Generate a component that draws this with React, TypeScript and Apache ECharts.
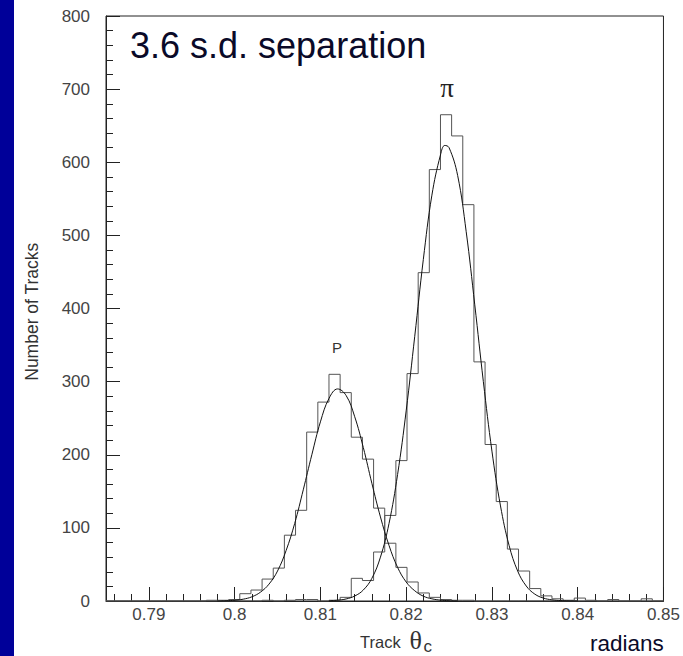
import { useEffect, useRef } from "react";
import * as echarts from "echarts";

// Histogram binning (50 bins from 0.785 to 0.85)
const binStart = 0.785;
const binWidth = 0.0013;

// Proton histogram counts per bin
const protonCounts = [
  0, 0, 0, 0, 0, 0, 0, 0, 0, 1,
  1, 2, 10, 15, 30, 45, 90, 124, 231, 272,
  310, 285, 224, 194, 127, 79, 46, 26, 11, 5,
  2, 1, 1, 0, 0, 0, 0, 0, 0, 0,
  0, 0, 0, 0, 0, 0, 0, 0, 0, 0,
];

// Pion histogram counts per bin
const pionCounts = [
  0, 0, 0, 0, 0, 0, 0, 0, 0, 0,
  0, 0, 0, 0, 1, 0, 1, 2, 2, 0,
  1, 5, 31, 28, 67, 117, 192, 311, 449, 590,
  665, 636, 542, 327, 214, 136, 71, 41, 17, 7,
  3, 1, 4, 1, 0, 2, 0, 0, 3, 0,
];

// Fitted curves
const protonFitX = [
  0.798, 0.799, 0.8, 0.801, 0.802, 0.803, 0.804, 0.805, 0.806, 0.807,
  0.808, 0.809, 0.81, 0.811, 0.812, 0.813, 0.814, 0.815, 0.816, 0.817,
  0.818, 0.819, 0.82, 0.821, 0.822, 0.823, 0.824, 0.825, 0.826,
];
const protonFitY = [
  0, 0.4, 1, 2.5, 5.7, 12, 23, 41, 69, 106,
  152, 200, 245, 277, 290, 281, 252, 210, 161, 115,
  76, 46, 26, 14, 6.6, 3, 1.2, 0.4, 0.1,
];
const pionFitX = [
  0.811, 0.812, 0.813, 0.814, 0.815, 0.816, 0.817, 0.818, 0.819, 0.82,
  0.821, 0.822, 0.823, 0.824, 0.8245, 0.825, 0.826, 0.827, 0.828, 0.829,
  0.83, 0.831, 0.832, 0.833, 0.834, 0.835, 0.836, 0.837, 0.838, 0.839, 0.84,
];
const pionFitY = [
  0.4, 1.1, 2.8, 6.8, 15, 31, 60, 106, 173, 260,
  362, 467, 555, 610, 623, 620, 582, 505, 405, 300,
  205, 130, 76, 41, 20.5, 9.4, 4, 1.6, 0.6, 0.2, 0.1,
];

// Axis ticks
const xMajorTicks = [0.79, 0.8, 0.81, 0.82, 0.83, 0.84, 0.85];
const xTickLabels = ["0.79", "0.8", "0.81", "0.82", "0.83", "0.84", "0.85"];
const xMinorTicks = [
  0.786, 0.788, 0.792, 0.794, 0.796, 0.798, 0.802, 0.804, 0.806, 0.808,
  0.812, 0.814, 0.816, 0.818, 0.822, 0.824, 0.826, 0.828, 0.832, 0.834,
  0.836, 0.838, 0.842, 0.844, 0.846, 0.848,
];

const SANS = "'Liberation Sans', Arial, sans-serif";
const SERIF = "'Liberation Serif', 'Times New Roman', serif";

function histPoints(counts: number[]) {
  const pts: number[][] = counts.map((c, i) => [binStart + i * binWidth, c]);
  pts.push([binStart + counts.length * binWidth, counts[counts.length - 1]]);
  return pts;
}

export default function App() {
  const ref = useRef<HTMLDivElement>(null);
  useEffect(() => {
    const chart = echarts.init(ref.current!, null, { renderer: "svg" });
    const tickLine = { color: "#222", width: 1 };
    chart.setOption({
      animation: false,
      backgroundColor: "#ffffff",
      grid: {
        left: 106,
        right: 18,
        top: 16,
        bottom: 55,
        show: true,
        borderColor: "#222",
        borderWidth: 1,
        backgroundColor: "transparent",
      },
      xAxis: [
        {
          type: "value",
          min: 0.785,
          max: 0.85,
          position: "bottom",
          axisLine: { show: true, lineStyle: tickLine },
          splitLine: { show: false },
          axisTick: { show: true, inside: true, length: 14, customValues: xMajorTicks, lineStyle: tickLine },
          axisLabel: {
            customValues: xMajorTicks,
            formatter: (v: number) => {
              let best = 0;
              xMajorTicks.forEach((t, i) => {
                if (Math.abs(t - v) < Math.abs(xMajorTicks[best] - v)) best = i;
              });
              return xTickLabels[best];
            },
            color: "#444",
            fontSize: 17,
            fontFamily: SANS,
            margin: 5,
          },
        },
        {
          type: "value",
          min: 0.785,
          max: 0.85,
          position: "bottom",
          axisLine: { show: false },
          splitLine: { show: false },
          axisLabel: { show: false },
          axisTick: { show: true, inside: true, length: 7, customValues: xMinorTicks, lineStyle: tickLine },
        },
      ],
      yAxis: {
        type: "value",
        min: 0,
        max: 800,
        interval: 100,
        axisLine: { show: true, lineStyle: tickLine },
        splitLine: { show: false },
        axisTick: { show: true, inside: true, length: 14, lineStyle: tickLine },
        minorTick: { show: true, splitNumber: 5, length: 7, lineStyle: tickLine },
        axisLabel: { color: "#444", fontSize: 17, fontFamily: SANS, margin: 16 },
      },
      series: [
        {
          type: "line",
          name: "P histogram",
          data: histPoints(protonCounts),
          step: "end",
          symbol: "none",
          lineStyle: { color: "#555", width: 1 },
          z: 2,
        },
        {
          type: "line",
          name: "pi histogram",
          data: histPoints(pionCounts),
          step: "end",
          symbol: "none",
          lineStyle: { color: "#555", width: 1 },
          z: 2,
        },
        {
          type: "line",
          name: "P fit",
          data: protonFitX.map((x, i) => [x, protonFitY[i]]),
          smooth: 0.4,
          symbol: "none",
          lineStyle: { color: "#111", width: 1 },
          z: 3,
        },
        {
          type: "line",
          name: "pi fit",
          data: pionFitX.map((x, i) => [x, pionFitY[i]]),
          smooth: 0.4,
          symbol: "none",
          lineStyle: { color: "#111", width: 1 },
          z: 3,
        },
      ],
      graphic: [
        {
          type: "rect",
          silent: true,
          shape: { x: 0, y: 0, width: 14, height: 656 },
          style: { fill: "#000099" },
        },
        {
          type: "text",
          x: 130,
          y: 45.8,
          style: {
            text: "3.6 s.d. separation",
            fontSize: 36,
            fontFamily: SANS,
            fill: "#0a0a28",
            align: "left",
            verticalAlign: "middle",
          },
        },
        {
          type: "text",
          x: 447,
          y: 88,
          style: { text: "π", fontSize: 27, fontFamily: SERIF, fill: "#222", align: "center", verticalAlign: "middle" },
        },
        {
          type: "text",
          x: 337,
          y: 347,
          style: { text: "P", fontSize: 15, fontFamily: SANS, fill: "#333", align: "center", verticalAlign: "middle" },
        },
        {
          type: "text",
          x: 32.2,
          y: 311.7,
          rotation: Math.PI / 2,
          style: {
            text: "Number of Tracks",
            fontSize: 17.5,
            fontFamily: SANS,
            fill: "#333",
            align: "center",
            verticalAlign: "middle",
          },
        },
        {
          type: "text",
          x: 360,
          y: 641.6,
          style: { text: "Track", fontSize: 16.5, fontFamily: SANS, fill: "#333", align: "left", verticalAlign: "middle" },
        },
        {
          type: "text",
          x: 409.5,
          y: 640,
          style: { text: "θ", fontSize: 26, fontFamily: SERIF, fill: "#333", align: "left", verticalAlign: "middle" },
        },
        {
          type: "text",
          x: 423.5,
          y: 646,
          style: { text: "c", fontSize: 17, fontFamily: SANS, fill: "#333", align: "left", verticalAlign: "middle" },
        },
        {
          type: "text",
          x: 590,
          y: 643.9,
          style: { text: "radians", fontSize: 22.5, fontFamily: SANS, fill: "#0a0a28", align: "left", verticalAlign: "middle" },
        },
      ],
    });
    return () => chart.dispose();
  }, []);
  return (
    <div
      ref={ref}
      style={{ position: "fixed", left: 0, top: 0, width: 683, height: 656, background: "#fff" }}
    />
  );
}
